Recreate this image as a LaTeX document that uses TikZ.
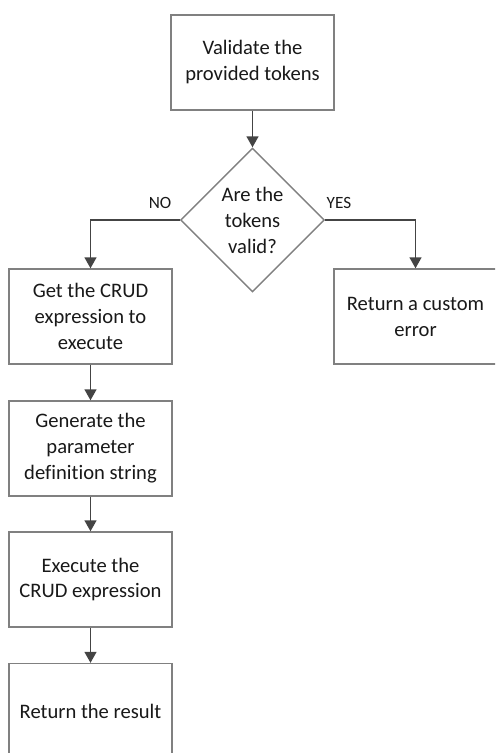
\documentclass[tikz,border=0pt]{standalone}
\usepackage{fontspec}
\setmainfont{Carlito}[Ligatures=NoCommon]
\usepackage{tikz}
\usetikzlibrary{arrows.meta,shapes.geometric}
\definecolor{boxgray}{HTML}{808080}
\definecolor{arrowgray}{HTML}{444444}

\begin{document}
\begin{tikzpicture}[x=0.5pt, y=-0.5pt,
  every node/.style={font=\fontsize{10.3}{13}\selectfont, text=black!90},
  procbox/.style={draw=boxgray, line width=0.7pt, fill=white, minimum width=81.5pt, minimum height=47.5pt, align=center, inner sep=2pt},
  decision/.style={diamond, aspect=1, draw=boxgray, line width=0.7pt, fill=white, minimum width=72pt, minimum height=72pt, inner sep=0pt, align=center},
  flow/.style={draw=arrowgray, line width=0.75pt, -{Triangle[width=6pt,length=5.5pt]}},
  branch/.style={font=\fontsize{8.6}{10}\selectfont}]
  \useasboundingbox (0,0) rectangle (495,753);
  \clip (0,0) rectangle (495,753);
  \node[procbox] (validate) at (252.5, 62.5) {Validate the\\provided tokens};
  \node[decision] (valid) at (252.5, 220) {Are the\\tokens\\valid?};
  \node[procbox] (getexpr) at (90.5, 316.5) {Get the CRUD\\expression to\\execute};
  \node[procbox] (customerr) at (415.5, 316.5) {Return a custom\\error};
  \node[procbox] (paramdef) at (90.5, 448.5) {Generate the\\parameter\\definition string};
  \node[procbox] (execexpr) at (90.5, 579.5) {Execute the\\CRUD expression};
  \node[procbox] (result) at (90.5, 711) {Return the result};
  \node[branch] (no) at (160, 202.5) {NO};
  \node[branch] (yes) at (339, 202.5) {YES};
  \draw[flow] (validate) -- (valid);
  \draw[flow] (valid.west) -| (getexpr.north);
  \draw[flow] (valid.east) -| (customerr.north);
  \draw[flow] (getexpr) -- (paramdef);
  \draw[flow] (paramdef) -- (execexpr);
  \draw[flow] (execexpr) -- (result);
\end{tikzpicture}
\end{document}
